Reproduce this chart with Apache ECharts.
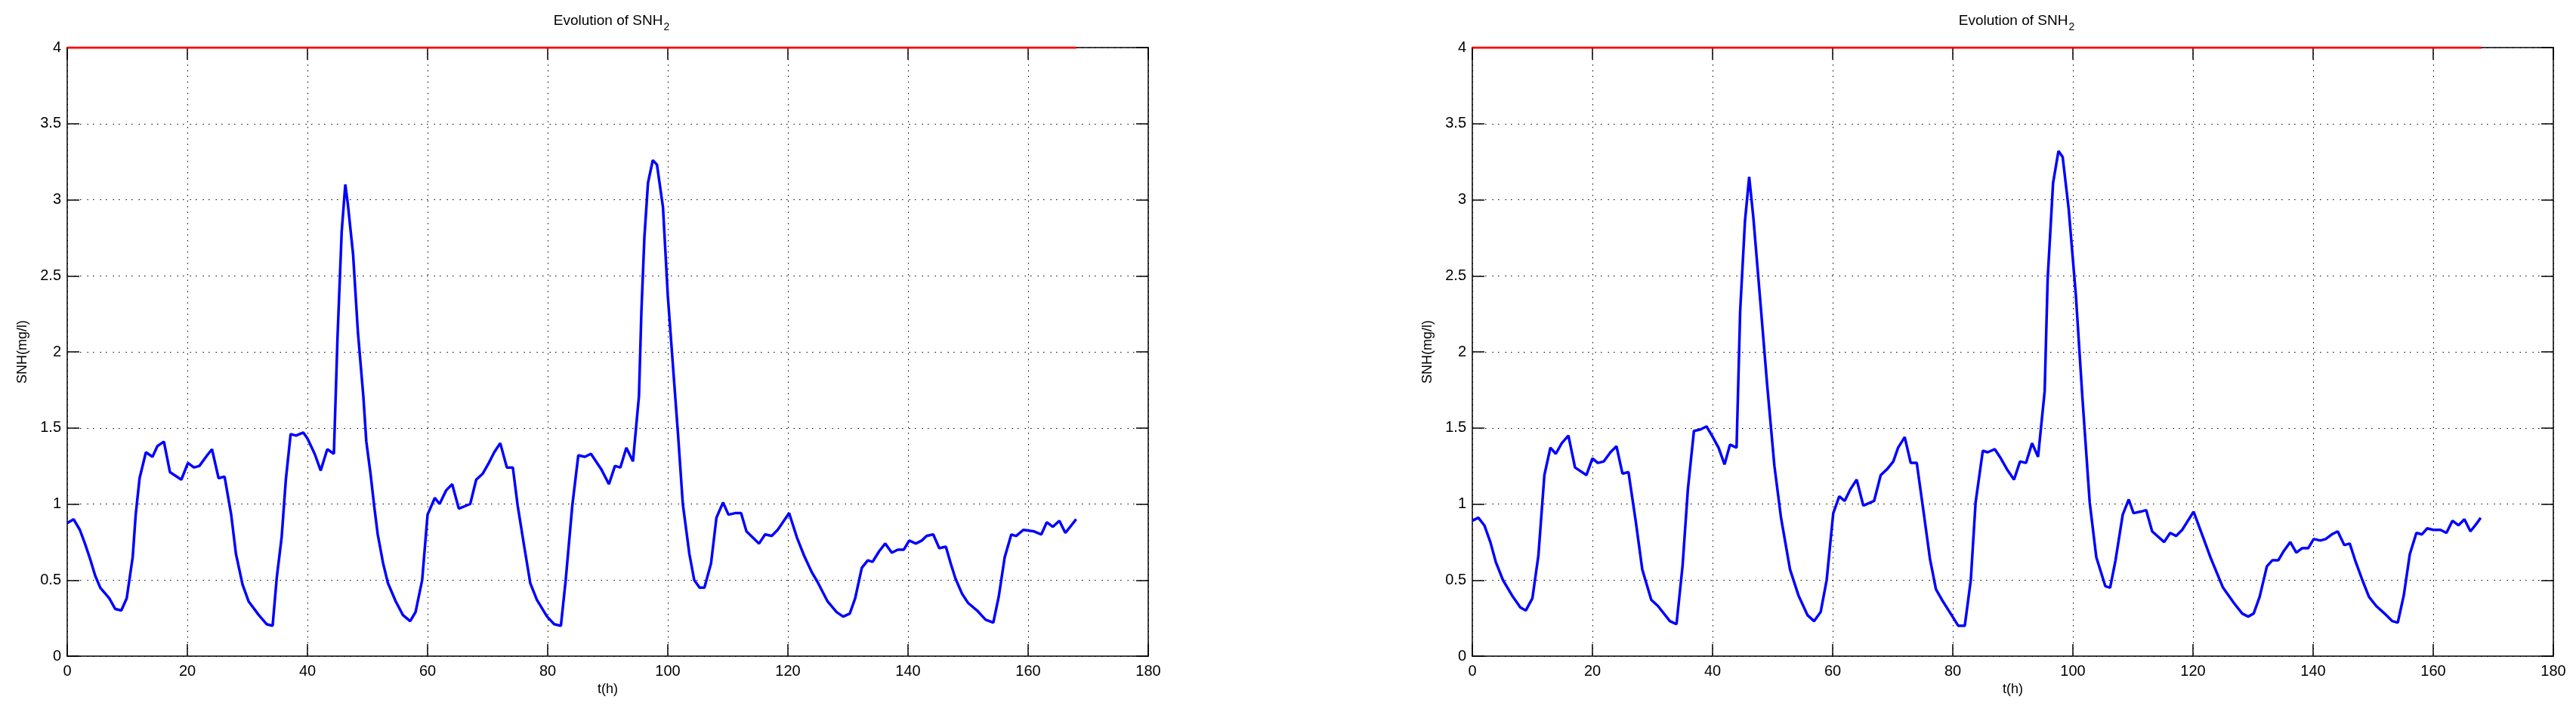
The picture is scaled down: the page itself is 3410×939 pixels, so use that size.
<!DOCTYPE html>
<html><head><meta charset="utf-8">
<script src="https://cdn.jsdelivr.net/npm/echarts@6/dist/echarts.min.js"></script>
<style>html,body{margin:0;padding:0;background:#fff}#c{width:3410px;height:939px}</style>
</head><body><div id="c"></div>
<script>
const xTicks = [0,20,40,60,80,100,120,140,160,180];
const yTicks = [0,0.5,1,1.5,2,2.5,3,3.5,4];
const limitT = [0,168];
const limitV = [4,4];
const leftT = [0,1.06,2.1,2.95,3.8,4.65,5.5,7,8,9,9.9,10.9,11.4,12.05,13.1,14.2,15,16.1,17.1,19,20.1,21.1,22,23.3,24.1,25.2,26.2,27.3,28.1,29.2,30.2,31.9,33.2,34.2,34.9,35.7,36.4,37.2,38.1,39.3,40,41.2,42.2,43.3,44.4,45,45.7,46.3,46.7,47.6,48.4,49.3,49.8,50.5,51.1,51.7,52.6,53.4,54.7,55.9,57.1,58,59.1,60,61.2,62,63.1,64.1,65.2,67.1,68.1,69.2,70.2,71.1,72.1,73.2,74.2,75,76.1,77.1,78.2,79.9,81.1,82.2,83,84.1,85.1,86.2,87.2,88.9,90.2,91.2,92.1,93.1,94.2,95.2,95.6,96.1,96.7,97.5,98.2,99.2,100,100.8,101.7,102.5,103.6,104.4,105.3,106.1,107.2,108.1,109.2,110.1,111.2,112.2,113.1,115.2,116.2,117.3,118.3,120.2,121.5,122.7,124,124.9,126.6,128.1,129.2,130.3,131.2,132.3,133.3,134.1,135.2,136.2,137.3,138.3,139.3,140.2,141.3,142.3,143.1,144.2,145.2,146.3,147.1,147.9,149,150,151.5,152.9,154.2,155.1,156.1,157.2,158,159.2,161,162.2,163.1,164.1,165.2,166.2,167,168];
const leftV = [0.875,0.9,0.83,0.74,0.64,0.53,0.45,0.38,0.31,0.3,0.38,0.65,0.93,1.17,1.34,1.31,1.38,1.41,1.21,1.16,1.27,1.24,1.25,1.32,1.36,1.17,1.18,0.93,0.67,0.47,0.36,0.27,0.21,0.2,0.52,0.78,1.16,1.46,1.45,1.47,1.43,1.33,1.22,1.36,1.33,2.09,2.79,3.1,2.98,2.64,2.13,1.71,1.41,1.2,0.99,0.8,0.61,0.48,0.36,0.27,0.23,0.29,0.5,0.93,1.04,1.0,1.09,1.13,0.97,1.0,1.16,1.2,1.27,1.34,1.4,1.24,1.24,0.99,0.72,0.48,0.37,0.26,0.21,0.2,0.5,0.99,1.32,1.31,1.33,1.23,1.13,1.25,1.24,1.37,1.28,1.71,2.26,2.75,3.11,3.26,3.23,2.95,2.37,1.94,1.46,1.0,0.67,0.5,0.45,0.45,0.61,0.91,1.01,0.93,0.94,0.94,0.82,0.74,0.8,0.79,0.83,0.94,0.78,0.66,0.55,0.49,0.36,0.29,0.26,0.28,0.38,0.58,0.63,0.62,0.69,0.74,0.68,0.7,0.7,0.76,0.74,0.76,0.79,0.8,0.71,0.72,0.61,0.51,0.41,0.35,0.3,0.24,0.22,0.39,0.65,0.8,0.79,0.83,0.82,0.8,0.88,0.85,0.89,0.81,0.85,0.9];
const rightT = [0,1,2,3,3.9,5.1,6.6,8,8.9,10,11,12,13,13.9,14.9,16,17.1,19,20,20.9,21.9,23,24,25,26,27.2,28.3,29.8,30.9,32.9,34,35,35.9,36.9,38,39,39.9,41,42,42.9,44,44.6,45.4,46.1,46.8,48,49.1,50.3,51.4,52.9,54.3,55.8,56.9,58,59,60.1,61.1,62,63,64,65.1,66.9,68,69.1,70.1,70.9,72,73,74,75.2,76.2,77.2,78.2,79.8,80.9,82,83,83.8,85,85.8,87,88,89,90.2,91.2,92.2,93.2,94.2,95.3,95.8,96.7,97.6,98.3,99.3,100.5,101.6,102.8,103.9,105.4,106.2,107.1,108.3,109.3,110.1,111.3,112.2,113.2,115.2,116.2,117.2,118.2,120.1,121.6,123,125,126.8,128.2,129.2,130.1,131.1,132.3,133.2,134.2,135.1,136.2,137.2,138.2,139.2,140.1,141.2,142.1,143.1,144.1,145.2,146.1,147,148.2,149.3,150.5,151.9,153.2,154.1,155.1,156.1,157.2,158.1,159,160,161.2,162.2,163.2,164.2,165.2,166.2,167.2,167.9];
const rightV = [0.89,0.91,0.86,0.75,0.62,0.5,0.4,0.32,0.3,0.38,0.66,1.19,1.37,1.33,1.4,1.45,1.24,1.19,1.3,1.27,1.28,1.34,1.38,1.2,1.21,0.89,0.57,0.37,0.33,0.23,0.21,0.59,1.1,1.48,1.49,1.51,1.45,1.37,1.26,1.39,1.37,2.27,2.86,3.15,2.88,2.31,1.78,1.25,0.91,0.57,0.4,0.27,0.23,0.29,0.5,0.94,1.05,1.02,1.1,1.16,0.99,1.02,1.19,1.23,1.28,1.37,1.44,1.27,1.27,0.93,0.64,0.44,0.37,0.27,0.2,0.2,0.5,1.01,1.35,1.34,1.36,1.3,1.23,1.16,1.28,1.27,1.4,1.31,1.74,2.48,3.11,3.32,3.28,2.94,2.37,1.69,1.01,0.65,0.46,0.45,0.63,0.93,1.03,0.94,0.95,0.96,0.82,0.75,0.81,0.79,0.83,0.95,0.79,0.64,0.45,0.35,0.28,0.26,0.28,0.39,0.59,0.63,0.63,0.69,0.75,0.68,0.71,0.71,0.77,0.76,0.77,0.8,0.82,0.73,0.74,0.63,0.5,0.39,0.33,0.28,0.23,0.22,0.4,0.67,0.81,0.8,0.84,0.83,0.83,0.81,0.89,0.86,0.9,0.82,0.87,0.91];

const zip = (a,b) => a.map((t,i)=>[t,b[i]]);
const font = 'Liberation Sans, Arial, sans-serif';
const lefts = [89, 1949];
const W = 1431, TOP = 63, H = 806;
const grids = [], xAxes = [], yAxes = [], series = [], titles = [];
const fmtY = v => String(v);
[[leftT,leftV],[rightT,rightV]].forEach((d,i)=>{
  grids.push({left: lefts[i], top: TOP, width: W, height: H, containLabel:false});
  titles.push({text:'{a|Evolution of SNH}{b|2}', left: lefts[i]+W/2, top: 8, textAlign:'center',
    textStyle:{fontWeight:'normal',rich:{a:{fontFamily:font,fontSize:19,fontWeight:'normal',color:'#000'},b:{fontFamily:font,fontSize:14,fontWeight:'normal',color:'#000',padding:[16,0,0,1]}}}});
  xAxes.push({gridIndex:i, type:'value', min:0, max:180, interval:20, position:'bottom',
    name:'t(h)', nameLocation:'middle', nameGap:30, nameTextStyle:{fontFamily:font,fontSize:18,color:'#000'},
    axisLine:{lineStyle:{color:'#000',width:1.5}}, axisTick:{inside:true,length:16,lineStyle:{color:'#000',width:1.5}},
    axisLabel:{fontFamily:font,fontSize:20,color:'#000',margin:10},
    splitLine:{show:true,lineStyle:{color:'#000',type:[1.5,6],width:1}}});
  xAxes.push({gridIndex:i, type:'value', min:0, max:180, interval:20, position:'top',
    axisLine:{onZero:false,lineStyle:{color:'#000',width:1.5}}, axisTick:{inside:true,length:16,lineStyle:{color:'#000',width:1.5}},
    axisLabel:{show:false}, splitLine:{show:false}});
  yAxes.push({gridIndex:i, type:'value', min:0, max:4, interval:0.5, position:'left',
    name:'SNH(mg/l)', nameLocation:'middle', nameGap:50, nameRotate:90, nameTextStyle:{fontFamily:font,fontSize:18,color:'#000'},
    axisLine:{lineStyle:{color:'#000',width:1.5}}, axisTick:{inside:true,length:16,lineStyle:{color:'#000',width:1.5}},
    axisLabel:{fontFamily:font,fontSize:20,color:'#000',margin:8,formatter:fmtY},
    splitLine:{show:true,lineStyle:{color:'#000',type:[1.5,8,1.5,6],width:1}}});
  yAxes.push({gridIndex:i, type:'value', min:0, max:4, interval:0.5, position:'right',
    axisLine:{onZero:false,lineStyle:{color:'#000',width:1.5}}, axisTick:{inside:true,length:16,lineStyle:{color:'#000',width:1.5}},
    axisLabel:{show:false}, splitLine:{show:false}});
  series.push({type:'line', xAxisIndex:2*i, yAxisIndex:2*i, data: zip(d[0],d[1]), showSymbol:false, symbol:'none',
    lineStyle:{color:'#0000ff',width:3.5}, animation:false});
  series.push({type:'line', xAxisIndex:2*i, yAxisIndex:2*i, data: zip(limitT,limitV), showSymbol:false, symbol:'none',
    lineStyle:{color:'#ff0000',width:3}, animation:false, z:5});
});
const chart = echarts.init(document.getElementById('c'));
chart.setOption({backgroundColor:'#fff', animation:false, title:titles, grid:grids, xAxis:xAxes, yAxis:yAxes, series});
</script></body></html>
